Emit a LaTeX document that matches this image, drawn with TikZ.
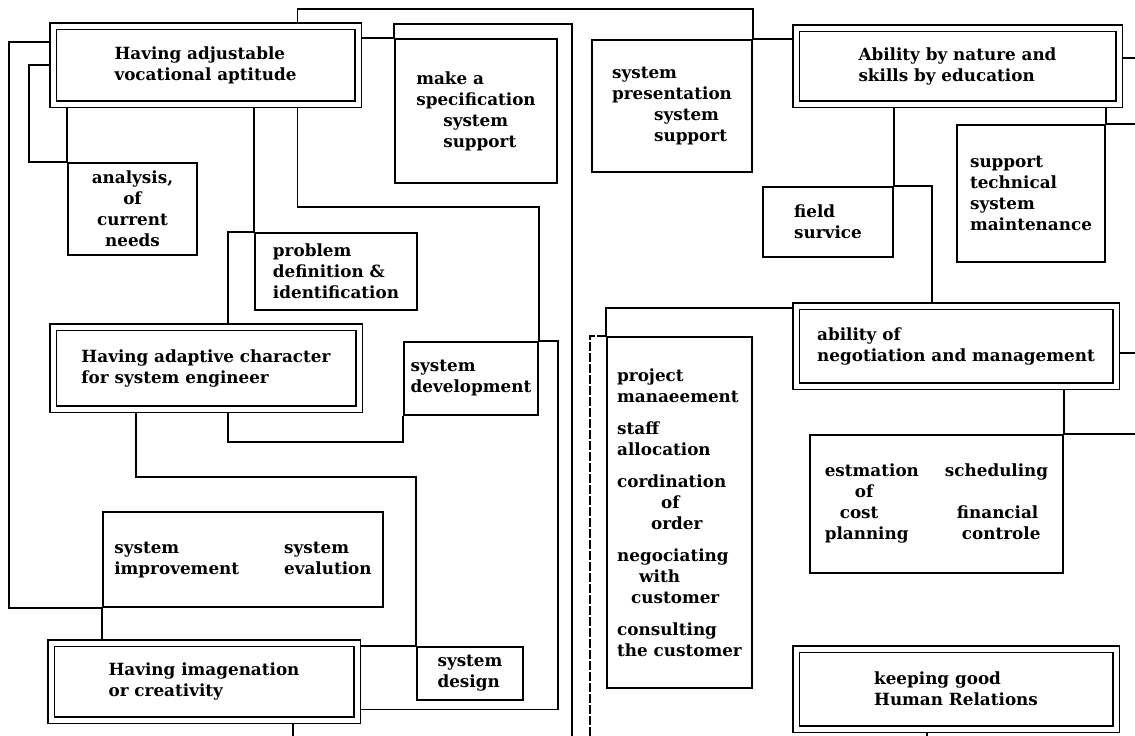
\documentclass[tikz,border=0pt]{standalone}
\usepackage{fontspec}
\setmainfont{DejaVu Serif}
\usetikzlibrary{backgrounds}
\newcommand{\boxfont}{\fontsize{16.8}{21}\selectfont\bfseries}

\begin{document}
\begin{tikzpicture}[x=1pt,y=-1pt,line width=1.5pt,
    every node/.style={font=\boxfont,inner sep=0pt},
    dblbox/.style={draw,double,double distance=5pt,line width=1.5pt,fill=white,align=left},
    sbox/.style={draw,line width=1.5pt,fill=white,align=left},
    wire/.style={line width=1.7pt}]
  \useasboundingbox (0,0) rectangle (1135,736);

  % main qualities, left column
  \node[dblbox,minimum width=305pt,minimum height=78pt] (apt) at (205.5,65)
    {Having adjustable\\vocational aptitude};
  \node[dblbox,minimum width=306pt,minimum height=82pt] (adapt) at (206,368)
    {Having adaptive character\\for system engineer};
  \node[dblbox,minimum width=306pt,minimum height=77pt] (imag) at (204,681.5)
    {Having imagenation\\or creativity};

  % main qualities, right column
  \node[dblbox,minimum width=323pt,minimum height=76pt] (nature) at (957.5,66)
    {Ability by nature and\\skills by education};
  \node[dblbox,minimum width=320pt,minimum height=80pt] (negot) at (956,346)
    {ability of\\negotiation and management};
  \node[dblbox,minimum width=320pt,minimum height=80pt] (relat) at (956,689)
    {keeping good\\Human Relations};

  % tasks
  \node[sbox,minimum width=162pt,minimum height=144pt] (spec) at (476,111)
    {make a\\specification\\\hspace*{27pt}system\\\hspace*{27pt}support};
  \node[sbox,minimum width=160pt,minimum height=132pt] (pres) at (672,106)
    {system\\presentation\\\hspace*{42pt}system\\\hspace*{42pt}support};
  \node[sbox,align=center,minimum width=129pt,minimum height=92pt] (anal) at (132.5,209)
    {analysis,\\of\\current\\needs};
  \node[sbox,minimum width=162pt,minimum height=77pt] (prob) at (336,271.5)
    {problem\\definition \&\\identification};
  \node[sbox,minimum width=134pt,minimum height=73pt] (dev) at (471,378.5)
    {system\\development};
  \node[sbox,minimum width=280pt,minimum height=95pt] (improv) at (243,559.5)
    {\begin{tabular}{@{}l@{\hspace{45pt}}l@{}}system & system\\improvement & evalution\end{tabular}};
  \node[sbox,minimum width=106pt,minimum height=53pt] (design) at (470,673.5)
    {system\\design};
  \node[sbox,minimum width=130pt,minimum height=70pt] (field) at (828,222)
    {field\\survice};
  \node[sbox,minimum width=148pt,minimum height=137pt] (support) at (1031,193.5)
    {support\\technical\\system\\maintenance};
  \node[sbox,minimum width=145pt,minimum height=351pt] (proj) at (679.5,512.5)
    {project\\manaeement\\[11pt]staff\\allocation\\[11pt]cordination\\\hspace*{44pt}of\\\hspace*{34pt}order\\[11pt]
     negociating\\\hspace*{22pt}with\\\hspace*{14pt}customer\\[11pt]consulting\\the customer};
  \node[sbox,minimum width=253pt,minimum height=138pt] (estim) at (936.5,504)
    {\begin{tabular}{@{}l@{\hspace{26pt}}l@{}}
      estmation & scheduling\\
      \hspace*{30pt}of & \\
      \hspace*{15pt}cost & \hspace*{12pt}financial\\
      planning & \hspace*{17pt}controle
     \end{tabular}};

  % loose ends at the edge of the sheet
  \coordinate (bA) at (572,736);
  \coordinate (bB) at (590,736);
  \coordinate (bC) at (927,736);
  \coordinate (bD) at (293,736);
  \coordinate (rA) at (1135,58);
  \coordinate (rB) at (1135,125);
  \coordinate (rC) at (1135,353);
  \coordinate (rD) at (1135,435);

  \begin{scope}[on background layer]
    % left half
    \draw[wire] ([xshift=92pt]apt.north) |- ([yshift=30pt]pres.north east) -- (pres.north east);
    \draw[wire] (apt.east |- spec.north west) -- (spec.north west);
    \draw[wire] (spec.north west) -- ++(0,14pt) -| (bA);
    \draw[wire] ([yshift=23pt]apt.west) -- ++(-43pt,0) |- (improv.south west);
    \draw[wire] (apt.west) -- ++(-23pt,0) |- (anal.north west);
    \draw[wire] (apt.south -| anal.west) -- (anal.north west);
    \draw[wire] (apt.south -| prob.west) -- (prob.north west);
    \draw[wire] (prob.north west) -| ([xshift=22pt]adapt.north);
    \draw[wire] ([xshift=22pt]adapt.south) |- ([yshift=-26pt]dev.south west) -- (dev.south west);
    \draw[wire] ([xshift=92pt]apt.south) |- ([yshift=134pt]dev.north east) -- (dev.north east);
    \draw[wire] (dev.north east) -- ++(19pt,0) |- ([yshift=-28pt]imag.east);
    \draw[wire] ([xshift=-70pt]adapt.south) |- ([yshift=169pt]design.north west) -- (design.north west);
    \draw[wire] (imag.east |- design.north west) -- (design.north west);
    \draw[wire] (improv.south west) -- (improv.south west |- imag.north);
    \draw[wire] (imag.south -| bD) -- (bD);
    % right half
    \draw[wire] (pres.north east) -- (pres.north east -| nature.west);
    \draw[wire] (nature.east |- rA) -- (rA);
    \draw[wire] (nature.south -| field.east) -- (field.north east);
    \draw[wire] (field.north east) -| ([xshift=-24pt]negot.north);
    \draw[wire] (nature.south -| support.east) -- (support.north east);
    \draw[wire] (support.north east) -- (support.north east -| rB);
    \draw[wire] ([yshift=38pt]negot.west) -| (proj.north west);
    \draw[wire,dash pattern=on 9pt off 2pt] (proj.north west) -| (bB);
    \draw[wire] (negot.east |- rC) -- (rC);
    \draw[wire] (negot.south -| estim.east) -- (estim.north east);
    \draw[wire] (estim.north east) -- (estim.north east -| rD);
    \draw[wire] ([xshift=-29pt]relat.south) -- (bC);
  \end{scope}
\end{tikzpicture}
\end{document}
